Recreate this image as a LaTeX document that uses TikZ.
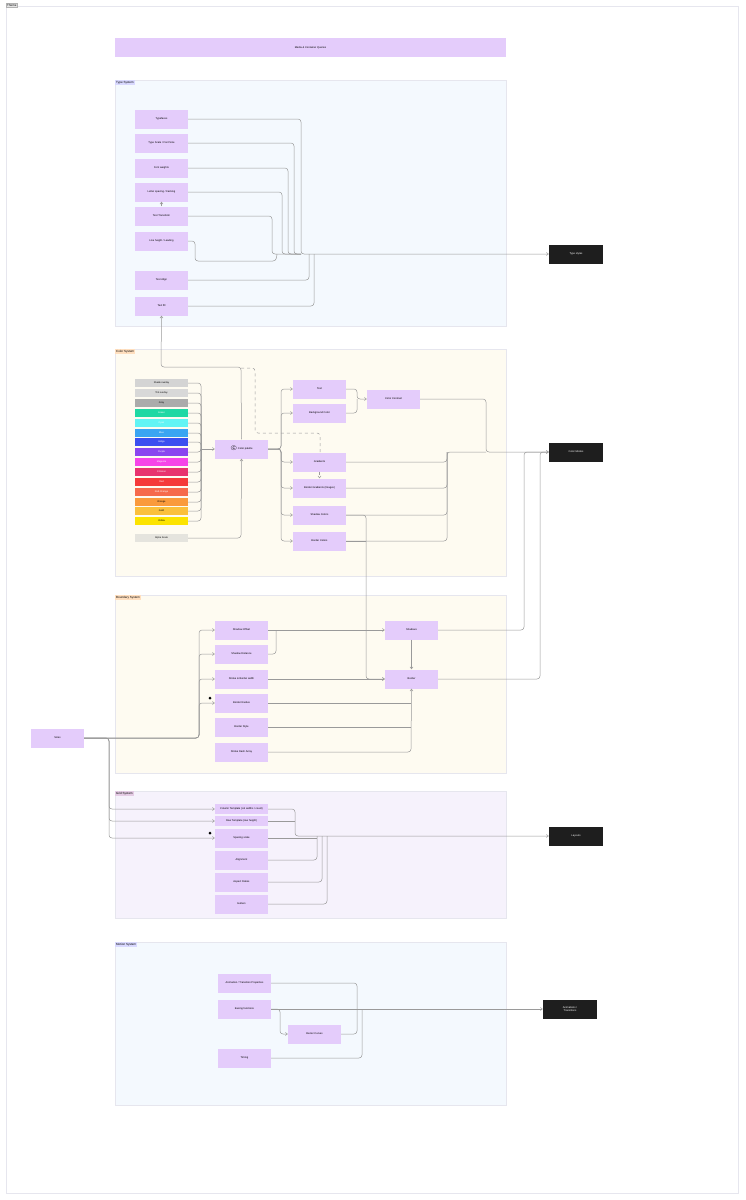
\documentclass[tikz,border=0pt]{standalone}
\usepackage{fontspec}
\setmainfont{Liberation Sans}
\usetikzlibrary{arrows.meta}
\begin{document}
\begin{tikzpicture}[x=1pt,y=-1pt,
 nd/.style={fill=lilac,minimum width=53pt,minimum height=19pt,inner sep=0pt,font=\fontsize{2.6}{3}\selectfont,align=center},
 dk/.style={fill=dark,text=white,minimum width=54pt,minimum height=19pt,inner sep=0pt,font=\fontsize{2.6}{3}\selectfont,align=center},
 sw/.style={minimum width=53pt,minimum height=8pt,inner sep=0pt,font=\fontsize{2.4}{3}\selectfont},
 grp/.style={draw=gline,line width=0.3pt},
 glab/.style={anchor=north west,inner sep=1pt,font=\fontsize{3}{3.5}\selectfont},
 e/.style={draw=eline,line width=0.5pt,rounded corners=3pt},
 a/.style={e,-{Straight Barb[length=2pt,width=3pt]}}]
\definecolor{lilac}{HTML}{E4CCFB}
\definecolor{dark}{HTML}{1E1E1E}
\definecolor{eline}{HTML}{9A9A9A}
\definecolor{gline}{HTML}{E6E6EE}
\useasboundingbox (0,0) rectangle (745,1200);
\fill[white] (0,0) rectangle (745,1200);
\draw[gline] (6,6) rectangle (738,1193);
\node[glab,fill=gray!20,draw=gray!60] (frame) at (6,3) {Theme};
\node[nd,minimum width=391pt,minimum height=19pt] (mq) at (310.5,47.5) {Media \& Container Queries};
% groups
\path[grp,fill={rgb,255:red,244;green,249;blue,254}] (115,80) rectangle (506,326);
\node[glab,fill=blue!15] (g1) at (115,80) {Type System};
\path[grp,fill={rgb,255:red,254;green,251;blue,241}] (115,349) rectangle (506,576);
\node[glab,fill=orange!25] (g2) at (115,349) {Color System};
\path[grp,fill={rgb,255:red,254;green,251;blue,241}] (115,595) rectangle (506,773);
\node[glab,fill=orange!25] (g3) at (115,595) {Boundary System};
\path[grp,fill={rgb,255:red,246;green,242;blue,252}] (115,791) rectangle (506,918);
\node[glab,fill=violet!20] (g4) at (115,791) {Grid System};
\path[grp,fill={rgb,255:red,244;green,249;blue,254}] (115,942) rectangle (506,1105);
\node[glab,fill=blue!15] (g5) at (115,942) {Motion System};
% type
\node[nd] (tf) at (161.5,119) {Typefaces};
\node[nd] (tsz) at (161.5,143) {Type Scale / Font Size};
\node[nd] (fw) at (161.5,168) {Font weights};
\node[nd] (ls) at (161.5,192) {Letter spacing / tracking};
\node[nd] (tt) at (161.5,216) {Text Transform};
\node[nd] (lh) at (161.5,241) {Line height / Leading};
\node[nd] (ta) at (161.5,280) {Text Align};
\node[nd] (tfl) at (161.5,306) {Text fill};
\node[dk] (tsty) at (576,254) {Type styles};
\draw[a] (tf.east) -- (301,119) -- (301,254) -- (tsty.west);
\draw[e] (tsz.east) -- (294,143) -- (294,254) -- (301,254);
\draw[e] (fw.east) -- (288,168) -- (288,254) -- (301,254);
\draw[e] (ls.east) -- (282,192) -- (282,254) -- (301,254);
\draw[e] (tt.east) -- (272,216) -- (272,254) -- (301,254);
\draw[e] (lh.east) -- (195,241) -- (195,261) -- (276,261) -- (277,254);
\draw[e] (ta.east) -- (309,280) -- (309,254);
\draw[e] (tfl.east) -- (314,306) -- (314,254);
\draw[a] (tt.north) -- (ls.south);
% color
\foreach \n/\t/\y/\c/\tc in {s1/Shade overlay/383/D4D4D4/black,s2/Tint overlay/393/D8D8D8/black,s3/Gray/403/ABABAB/black,s4/Green/413/1FD8A4/white,s5/Cyan/423/62F4F4/white,s6/Blue/433/3AA5F2/white,s7/Indigo/442/3B4FF0/white,s8/Purple/452/8A45F0/white,s9/Magenta/462/F545E8/white,s10/Crimson/472/E8336E/white,s11/Red/482/F53A3A/white,s12/Red-Orange/492/F66A4C/white,s13/Orange/502/FA9A3C/black,s14/Gold/511/FBC03C/black,s15/Yellow/521/FCE300/black}{
 \definecolor{c\n}{HTML}{\c}
 \node[sw,fill=c\n,text=\tc] (\n) at (161.5,\y) {\t};
 \draw[e] (\n.east) -- (201,\y) -- (201,449);
}
\node[sw,fill={rgb,255:red,229;green,228;blue,222}] (alpha) at (161.5,538) {Alpha Scale};
\node[nd] (cp) at (241.5,449) {\textcircled{\tiny c} Color palette};
\draw[a] (201,449) -- (cp.west);
\draw[a] (alpha.east) -- (241,538) -- (cp.south);
\draw[a] (cp.north) -- (241,367) -- (161,367) -- (tfl.south);
\draw[e,dashed] (241,368) -- (255,368) -- (255,433) -- (320,433) -- (320,453);
\node[nd] (txt) at (319.5,389) {Text};
\node[nd] (bg) at (319.5,413) {Background Color};
\node[nd] (cc) at (393.5,399) {Color Contrast};
\node[nd] (gr) at (319.5,462) {Gradients};
\node[nd] (bgr) at (319.5,488) {Border Gradients (Images)};
\node[nd] (shc) at (319.5,515) {Shadow Colors};
\node[nd] (bc) at (319.5,541) {Border Colors};
\node[dk] (cm) at (576,452) {Color Modes};
\foreach \t in {txt,bg,gr,bgr,shc,bc}{\draw[a] (cp.east) -- (281,449) |- (\t.west);}
\draw[a] (txt.east) -- (357,389) -- (357,399) -- (cc.west);
\draw[e] (bg.east) -- (357,413) -- (357,399);
\draw[a,dashed] (gr.south) -- (bgr.north);
\draw[a] (cc.east) -- (486,399) -- (486,452) -- (cm.west);
\draw[e] (gr.east) -- (447,462) -- (447,452) -- (486,452);
\draw[e] (bgr.east) -- (447,488) -- (447,452);
\draw[e] (shc.east) -- (447,515) -- (447,452);
\draw[e] (bc.east) -- (447,541) -- (447,452);
% boundary
\node[nd] (so) at (241.5,630) {Shadow Offset};
\node[nd] (sd) at (241.5,654) {Shadow Distance};
\node[nd] (sbw) at (241.5,679) {Stroke \& Border width};
\node[nd] (br) at (241.5,703) {Border Radius};
\node[nd] (bs) at (241.5,727) {Border Style};
\node[nd] (sda) at (241.5,752) {Stroke Dash Array};
\node[nd] (sh) at (411.5,630) {Shadows};
\node[nd] (bo) at (411.5,679) {Border};
\node[nd] (sz) at (57.5,738) {Sizes};
\fill (210,698) circle (1.5pt);
\fill (210,833) circle (1.5pt);
\foreach \t in {so,sd,sbw,br}{\draw[a] (sz.east) -- (199,738) |- (\t.west);}
\draw[a] (so.east) -- (sh.west);
\draw[e] (sd.east) -- (276,654) -- (276,630);
\draw[a] (sbw.east) -- (bo.west);
\draw[a] (sh.south) -- (bo.north);
\draw[e] (br.east) -- (411,703);
\draw[e] (bs.east) -- (411,727);
\draw[a] (sda.east) -- (411,752) -- (bo.south);
\draw[a] (shc.east) -- (366,515) -- (366,679) -- (bo.west);
\draw[e] (bc.east) -- (366,541);
\draw[a] (sh.east) -- (524,630) -- (524,452) -- (cm.west);
\draw[e] (bo.east) -- (540,679) -- (540,452) -- (548,452);
% grid
\node[nd,minimum height=10pt] (ct) at (241.5,809) {Column Template (col widths / count)};
\node[nd,minimum height=10pt] (rt) at (241.5,821) {Row Template (row height)};
\node[nd] (ss) at (241.5,838) {Spacing scale};
\node[nd] (al) at (241.5,860) {Alignment};
\node[nd] (ar) at (241.5,882) {Aspect Ratios};
\node[nd] (gu) at (241.5,904) {Gutters};
\node[dk] (lay) at (576,836) {Layouts};
\foreach \t in {ct,rt,ss}{\draw[a] (sz.east) -- (109,738) |- (\t.west);}
\draw[a] (ct.east) -- (295,809) -- (295,836) -- (lay.west);
\draw[e] (rt.east) -- (295,821);
\draw[e] (ss.east) -- (317,838);
\draw[e] (al.east) -- (317,860) -- (317,836);
\draw[e] (ar.east) -- (322,882) -- (322,836);
\draw[e] (gu.east) -- (327,904) -- (327,836);
% motion
\node[nd] (atp) at (244.5,983) {Animation / Transition Properties};
\node[nd] (ef) at (244.5,1009) {Easing functions};
\node[nd] (bz) at (314.5,1034) {Bezier Curves};
\node[nd] (tm) at (244.5,1058) {Timing};
\node[dk] (anim) at (570,1009) {Animations /\\Transitions};
\draw[a] (ef.east) -- (anim.west);
\draw[e] (atp.east) -- (357,983) -- (357,1009);
\draw[a] (ef.east) -- (280,1009) -- (280,1034) -- (bz.west);
\draw[e] (bz.east) -- (357,1034) -- (357,1009);
\draw[e] (tm.east) -- (362,1058) -- (362,1009);
\end{tikzpicture}
\end{document}
